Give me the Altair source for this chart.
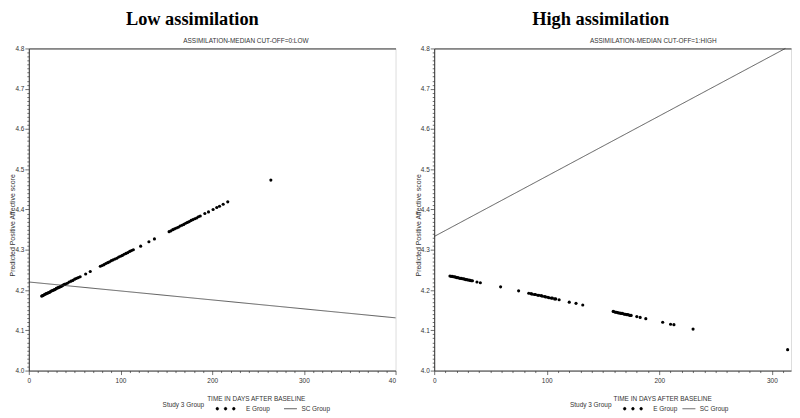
import altair as alt
import pandas as pd

# ---------------- data ----------------
panel_titles = ["Low assimilation", "High assimilation"]
panel_subtitles = ["ASSIMILATION-MEDIAN CUT-OFF=0:LOW", "ASSIMILATION-MEDIAN CUT-OFF=1:HIGH"]
x_title = "TIME IN DAYS AFTER BASELINE"
y_title = "Predicted Positive Affective score"
legend_title = "Study 3 Group"
e_label = "E Group"
sc_label = "SC Group"

low_e_days = [14, 15, 16, 17, 18, 19, 20, 21, 22, 23, 24, 25, 26, 27, 28, 29, 30, 31, 32, 33,
              34, 35, 36, 37, 38, 39, 40, 42, 44, 46, 48, 50, 52, 54, 56, 62, 67,
              78, 80, 82, 84, 86, 88, 90, 92, 94, 96, 98, 100, 102, 104, 106, 108, 110, 112, 114,
              122, 131, 137,
              153, 155, 157, 159, 161, 163, 165, 167, 169, 171, 173, 175, 177, 179, 181, 183, 185, 187,
              192, 196, 201, 205, 208, 212, 217, 264]
low_e_score = [4.185, 4.186, 4.187, 4.189, 4.190, 4.191, 4.192, 4.193, 4.194, 4.195, 4.197, 4.198,
               4.199, 4.200, 4.201, 4.202, 4.204, 4.205, 4.206, 4.207, 4.208, 4.209, 4.210, 4.212,
               4.213, 4.214, 4.215, 4.217, 4.220, 4.222, 4.224, 4.227, 4.229, 4.231, 4.233, 4.240,
               4.246,
               4.259, 4.261, 4.263, 4.266, 4.268, 4.270, 4.273, 4.275, 4.277, 4.279, 4.282, 4.284,
               4.286, 4.289, 4.291, 4.293, 4.296, 4.298, 4.300,
               4.309, 4.320, 4.327,
               4.345, 4.347, 4.350, 4.352, 4.354, 4.356, 4.359, 4.361, 4.363, 4.366, 4.368, 4.370,
               4.373, 4.375, 4.377, 4.379, 4.382, 4.384,
               4.390, 4.394, 4.400, 4.405, 4.408, 4.413, 4.419, 4.473]
low_sc_days = [0, 400]
low_sc_score = [4.220, 4.131]

high_e_days = [14, 15, 16, 17, 18, 19, 20, 21, 22, 23, 24, 25, 26, 27, 28, 29, 30, 31, 32, 33, 34,
               38, 41, 59, 75,
               84, 86, 87, 89, 90, 92, 93, 95, 96, 98, 99, 101, 102, 104, 105, 107, 108,
               111, 120, 126, 132,
               159, 160, 161, 162, 163, 164, 165, 166, 167, 168, 169, 170, 171, 172, 173, 174, 175,
               180, 183, 188, 203, 210, 213, 230, 314]
high_e_score = [4.235, 4.234, 4.234, 4.233, 4.233, 4.232, 4.231, 4.231, 4.230, 4.229, 4.229, 4.228,
                4.228, 4.227, 4.226, 4.226, 4.225, 4.225, 4.224, 4.223, 4.223,
                4.220, 4.218, 4.208, 4.198,
                4.192, 4.191, 4.190, 4.189, 4.189, 4.187, 4.187, 4.186, 4.185, 4.184, 4.183, 4.182,
                4.181, 4.180, 4.180, 4.178, 4.178,
                4.176, 4.170, 4.167, 4.163,
                4.147, 4.146, 4.145, 4.145, 4.144, 4.143, 4.143, 4.142, 4.142, 4.141, 4.140, 4.140,
                4.139, 4.139, 4.138, 4.137, 4.137,
                4.134, 4.132, 4.129, 4.120, 4.115, 4.114, 4.103, 4.052]
high_sc_days = [0, 312]
high_sc_score = [4.333, 4.800]

y_domain = [4.0, 4.8]
low_x_domain = [0, 400]
high_x_domain = [0, 317]

# ---------------- styling ----------------
SANS = "Liberation Sans"
SERIF = "Liberation Serif"
INK = "#333333"
H = 325

DOTS = ("M -0.97,0 A 0.14,0.14 0 1,0 -0.69,0 A 0.14,0.14 0 1,0 -0.97,0 Z "
        "M -0.14,0 A 0.14,0.14 0 1,0 0.14,0 A 0.14,0.14 0 1,0 -0.14,0 Z "
        "M 0.69,0 A 0.14,0.14 0 1,0 0.97,0 A 0.14,0.14 0 1,0 0.69,0 Z")

y_vals = [round(4.0 + i * 0.01, 2) for i in range(81)]
y_major = "abs(datum.value*10 - round(datum.value*10)) < 0.001"


def y_axis():
    return alt.Axis(
        values=y_vals,
        labelExpr=f"({y_major}) ? format(datum.value, '.1f') : ''",
        tickSize={"condition": {"test": y_major, "value": 4}, "value": 2},
        tickColor=INK, tickWidth=0.7, domainColor=INK, domainWidth=1,
        labelFont=SANS, labelFontSize=6.5, labelColor=INK, labelPadding=1,
        labelOverlap=False, labelBound=False,
        title=y_title, titleFont=SANS, titleFontSize=7, titleFontWeight="normal",
        titleColor=INK, titleX=-16, titleY=178, titleBaseline="middle", titleAngle=270,
        grid=False,
    )


def panel(e_days, e_score, sc_days, sc_score, x_domain, width, title, subtitle,
          title_dx, sub_x, xtitle_x, leg1_x, leg2_x, last_label):
    e_df = pd.DataFrame({"day": e_days, "score": e_score, "grp": [e_label] * len(e_days)})
    sc_df = pd.DataFrame({"day": sc_days, "score": sc_score, "grp": [sc_label] * len(sc_days)})
    sub_df = pd.DataFrame({"t": [subtitle]})

    x_vals = list(range(x_domain[0], x_domain[1] + 1, 10))
    x_scale = alt.Scale(domain=x_domain, nice=False, zero=False)
    y_scale = alt.Scale(domain=y_domain, nice=False, zero=False)

    bottom_axis = alt.Axis(
        orient="bottom", values=x_vals,
        labelExpr=(f"datum.value % 100 == 0 ? (datum.value == 400 ? '{last_label}' : datum.label) : ''"),
        labelAlign={"condition": {"test": "datum.value == 400", "value": "right"}, "value": "center"},
        tickSize={"condition": {"test": "datum.value % 100 == 0", "value": 4}, "value": 2},
        tickColor=INK, tickWidth=0.7, domainColor=INK, domainWidth=1,
        labelFont=SANS, labelFontSize=6.5, labelColor=INK, labelPadding=3,
        labelOverlap=False, labelBound=False, labelFlush=False,
        title=x_title, titleFont=SANS, titleFontSize=6.5, titleFontWeight="normal",
        titleColor=INK, titleX=xtitle_x, titleY=28, titleBaseline="middle", grid=False,
    )
    top_axis = alt.Axis(orient="top", labels=False, ticks=False, title=None,
                        domainColor=INK, domainWidth=1, grid=False)

    points = alt.Chart(e_df).mark_circle(size=10, opacity=1, color="black").encode(
        x=alt.X("day:Q", scale=x_scale, axis=bottom_axis),
        y=alt.Y("score:Q", scale=y_scale, axis=y_axis()),
        color=alt.Color("grp:N", scale=alt.Scale(domain=[e_label], range=["black"]),
                        legend=alt.Legend(
                            title=legend_title, orient="none", legendX=leg1_x, legendY=H + 28,
                            direction="horizontal", titleOrient="left", titleAnchor="middle",
                            titleBaseline="middle",
                            titleFont=SANS, titleFontSize=6.5, titleFontWeight="normal",
                            titleColor=INK, titlePadding=11,
                            symbolType=DOTS, symbolSize=400, symbolFillColor="black",
                            symbolStrokeColor="black", symbolStrokeWidth=0.5, symbolOpacity=1,
                            labelFont=SANS, labelFontSize=6.5, labelColor=INK, labelOffset=10,
                            padding=0)),
    )
    line = alt.Chart(sc_df).mark_line(color=INK, strokeWidth=0.8).encode(
        x=alt.X("day:Q", scale=x_scale, axis=top_axis),
        y=alt.Y("score:Q", scale=y_scale, axis=y_axis()),
        strokeDash=alt.StrokeDash("grp:N", scale=alt.Scale(domain=[sc_label], range=[[1, 0]]),
                                  legend=alt.Legend(
                                      title=None, orient="none", legendX=leg2_x, legendY=H + 31.5,
                                      direction="horizontal", symbolType="stroke", symbolSize=169,
                                      symbolStrokeColor=INK, symbolStrokeWidth=0.8,
                                      labelFont=SANS, labelFontSize=6.5, labelColor=INK,
                                      labelOffset=4, padding=0)),
    )
    sub = alt.Chart(sub_df).mark_text(font=SANS, fontSize=6.5, color=INK, baseline="middle",
                                      align="center").encode(
        text="t:N", x=alt.value(sub_x), y=alt.value(-7.5))

    return alt.layer(points, line, sub).resolve_axis(x="independent").properties(
        width=width, height=H,
        title=alt.TitleParams(title, font=SERIF, fontSize=18.5, fontWeight="bold", color="black",
                              anchor="middle", frame="group", dx=title_dx, offset=9.5),
    )


left = panel(low_e_days, low_e_score, low_sc_days, low_sc_score, low_x_domain, 370,
             panel_titles[0], panel_subtitles[0], -20, 219, 229, 135, 257, "40")
right = panel(high_e_days, high_e_score, high_sc_days, high_sc_score, high_x_domain, 360,
              panel_titles[1], panel_subtitles[1], -12, 221, 230, 137, 250, "")

chart = alt.hconcat(left, right, spacing=15).resolve_scale(
    color="independent", strokeDash="independent").resolve_legend(
    color="independent", strokeDash="independent").properties(padding=0).configure_view(
    stroke=None).configure(background="white")

chart.save("out.html", embed_options={"renderer": "svg", "actions": False})
